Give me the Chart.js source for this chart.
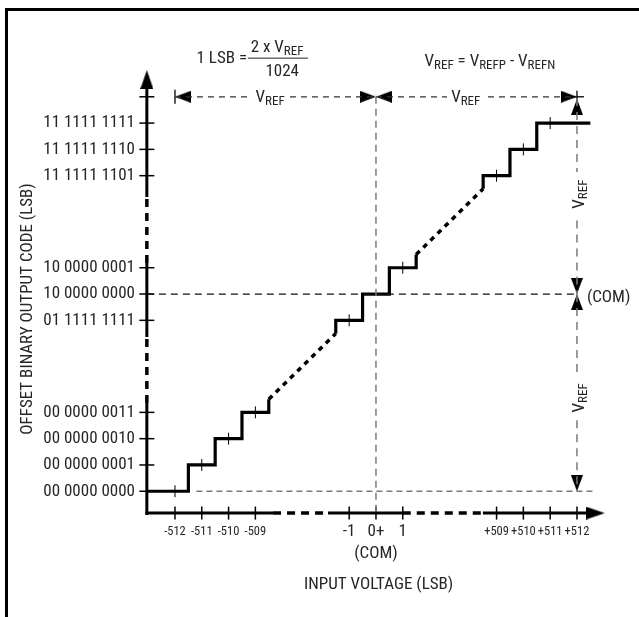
<!DOCTYPE html>
<html>
<head>
<meta charset="utf-8">
<title>ADC transfer function</title>
<script src="https://cdn.jsdelivr.net/npm/chart.js@4.4.1/dist/chart.umd.min.js"></script>
<style>
  html, body { margin: 0; padding: 0; background: #fff; }
  #wrap { position: relative; width: 639px; height: 617px; overflow: hidden; }
  #frame { position: absolute; left: 5px; top: 8px; right: -10px; bottom: -10px;
           border-left: 3px solid #000; border-top: 3px solid #000; }
  #myChart { position: absolute; left: 0; top: 0; }
</style>
</head>
<body>
<div id="wrap">
  <div id="frame"></div>
  <canvas id="myChart" width="639" height="617"></canvas>
</div>
<script>
// Plot units: 1 unit = 1 LSB step; both axes are broken, so the long
// runs between -509..-1 and +1..+509 are squeezed into a few units.

// axis ticks
const xTickPos = [-7.5, -6.5, -5.5, -4.5, -1, 0, 1, 4.5, 5.5, 6.5, 7.5];
const xTickLabels = ['-512', '-511', '-510', '-509', '-1', ['0+', '(COM)'], '1', '+509', '+510', '+511', '+512'];
const yTickPos = [-7.5, -6.5, -5.5, -4.5, -1, 0, 1, 4.5, 5.5, 6.5];
const yTickLabels = ['00 0000 0000', '00 0000 0001', '00 0000 0010', '00 0000 0011',
  '01 1111 1111', '10 0000 0000', '10 0000 0001',
  '11 1111 1101', '11 1111 1110', '11 1111 1111'];

// transfer curve (solid steps, null = break)
const stairX = [-8.55, -7, -7, -6, -6, -5, -5, -4, -4, null,
  -1.5, -1.5, -0.5, -0.5, 0.5, 0.5, 1.5, 1.5, null,
  4, 4, 5, 5, 6, 6, 8];
const stairY = [-7.5, -7.5, -6.5, -6.5, -5.5, -5.5, -4.5, -4.5, -4, null,
  -1.5, -1, -1, 0, 0, 1, 1, 1.5, null,
  4, 4.5, 4.5, 5.5, 5.5, 6.5, 6.5];
// dotted ramp standing in for the skipped codes
const rampX = [-4, -1.5, null, 1.5, 4];
const rampY = [-4, -1.5, null, 1.5, 4];
// code-centre marks on the steps
const midX = [-7.5, -6.5, -5.5, -4.5, -1, 1, 4.5, 5.5, 6.5];
const midY = [-7.5, -6.5, -5.5, -4.5, -1, 1, 4.5, 5.5, 6.5];

// axis lines (x = const for y axis, y = const for x axis)
const yAxisAt = -8.55;
const xAxisAt = -8.33;
const yAxisSolid = [[-8.4, -4.14], [-1.63, 1.18], [3.69, 8.0]];
const yAxisBroken = [[-4.14, -1.63], [1.18, 3.69]];
const xAxisSolid = [[-8.6, -3.84], [-1.79, 1.0], [3.99, 8.0]];
const xAxisBroken = [[-3.84, -1.79], [1.0, 3.99]];

// VREF dimension lines
const dimTopX = [-7.5, -4.81, null, -3.21, 0, null, 0, 2.65, null, 4.18, 7.5];
const dimTopY = [7.5, 7.5, null, 7.5, 7.5, null, 7.5, 7.5, null, 7.5, 7.5];
const dimRightX = [7.5, 7.5, null, 7.5, 7.5, null, 7.5, 7.5, null, 7.5, 7.5];
const dimRightY = [7.45, 4.64, null, 2.8, 0, null, 0, -3.1, null, -4.8, -7.5];

// guide lines
const comLineX = [yAxisAt, 7.5];
const comLineY = [0, 0];
const zeroCodeX = [-6.7, 8.1];
const zeroCodeY = [-7.5, -7.5];
const zeroInX = [0, 0];
const zeroInY = [7.5, xAxisAt];

// arrow heads: tip position + direction (deg, 0 = up)
const bigArrowX = [yAxisAt, 8.54];
const bigArrowY = [8.52, xAxisAt];
const bigArrowDir = [0, 90];
const smallArrowX = [-7.5, 0, 0, 7.5, 7.5, 7.5, 7.5, 7.5];
const smallArrowY = [7.5, 7.5, 7.5, 7.5, 7.42, 0, 0, -7.5];
const smallArrowDir = [270, 90, 270, 90, 0, 180, 0, 180];

const FONT = "'Roboto Condensed', 'DejaVu Sans Condensed', sans-serif";
const INK = '#262626';
const GREY = '#7a7a7a';

function pts(xs, ys) {
  return xs.map((x, i) => ({ x: x, y: ys[i] }));
}
function ranges(list, fixed, vertical) {
  const out = [];
  list.forEach((r, i) => {
    if (i) out.push({ x: null, y: null });
    r.forEach(v => out.push(vertical ? { x: fixed, y: v } : { x: v, y: fixed }));
  });
  return out;
}
function arrowHead(w, len) {
  const c = document.createElement('canvas');
  c.width = w;
  c.height = len * 2;
  const g = c.getContext('2d');
  g.fillStyle = '#000';
  g.beginPath();
  g.moveTo(w / 2, len);
  g.lineTo(w, len * 2);
  g.lineTo(0, len * 2);
  g.closePath();
  g.fill();
  return c;
}

function lineSet(data, color, width, dash) {
  return {
    data: data, showLine: true, borderColor: color, borderWidth: width,
    borderDash: dash || [], pointRadius: 0, fill: false, tension: 0, spanGaps: false
  };
}
function markSet(data, rot, r, w) {
  return {
    data: data, showLine: false, pointStyle: 'line', pointRotation: rot,
    pointRadius: r, pointBorderWidth: w, pointBorderColor: '#000', borderColor: '#000'
  };
}

// text drawn on top: [x, y, segments, align, rotated]
// segment = [text, subscript?]
const notes = [
  [-4.81, 8.94, [['1 LSB =', 0]], 'right', false],
  [-3.69, 9.38, [['2 x V', 0], ['REF', 1]], 'center', false],
  [-3.5, 8.45, [['1024', 0]], 'center', false],
  [4.25, 8.82, [['V', 0], ['REF', 1], [' = V', 0], ['REFP', 1], [' - V', 0], ['REFN', 1]], 'center', false],
  [-3.95, 7.45, [['V', 0], ['REF', 1]], 'center', false],
  [3.35, 7.45, [['V', 0], ['REF', 1]], 'center', false],
  [7.87, -0.15, [['(COM)', 0]], 'left', false],
  [7.6, 3.8, [['V', 0], ['REF', 1]], 'center', true],
  [7.6, -3.95, [['V', 0], ['REF', 1]], 'center', true]
];
const fractionBar = [[-4.78, -2.54], 8.97];

function drawRich(ctx, segs, align) {
  let w = 0;
  segs.forEach(s => {
    ctx.font = s[1] ? '13px ' + FONT : '17px ' + FONT;
    w += ctx.measureText(s[0]).width;
  });
  let cx = align === 'center' ? -w / 2 : (align === 'right' ? -w : 0);
  segs.forEach(s => {
    ctx.font = s[1] ? '13px ' + FONT : '17px ' + FONT;
    ctx.fillText(s[0], cx, s[1] ? 4 : 0);
    cx += ctx.measureText(s[0]).width;
  });
}

const notesPlugin = {
  id: 'notes',
  afterDatasetsDraw(chart) {
    const ctx = chart.ctx;
    const xs = chart.scales.x, ys = chart.scales.y;
    ctx.save();
    ctx.fillStyle = INK;
    ctx.textBaseline = 'middle';
    ctx.textAlign = 'left';
    notes.forEach(n => {
      ctx.save();
      ctx.translate(xs.getPixelForValue(n[0]), ys.getPixelForValue(n[1]));
      if (n[4]) ctx.rotate(-Math.PI / 2);
      drawRich(ctx, n[2], n[3]);
      ctx.restore();
    });
    ctx.strokeStyle = INK;
    ctx.lineWidth = 1;
    ctx.beginPath();
    const by = ys.getPixelForValue(fractionBar[1]);
    ctx.moveTo(xs.getPixelForValue(fractionBar[0][0]), by);
    ctx.lineTo(xs.getPixelForValue(fractionBar[0][1]), by);
    ctx.stroke();
    ctx.restore();
  }
};

const bigArrow = arrowHead(13, 19);
const smallArrow = arrowHead(12, 16);

const ctx = document.getElementById('myChart').getContext('2d');
const myChart = new Chart(ctx, {
  type: 'scatter',
  data: {
    datasets: [
      lineSet(pts(zeroCodeX, zeroCodeY), GREY, 1.3, [6, 4]),
      lineSet(pts(zeroInX, zeroInY), GREY, 1.5, [7, 5]),
      lineSet(pts(comLineX, comLineY), '#111', 1.2, [7, 5]),
      lineSet(pts(dimTopX, dimTopY), '#333', 1.2, [6, 5]),
      lineSet(pts(dimRightX, dimRightY), GREY, 1.5, [8, 6]),
      lineSet(ranges(yAxisSolid, yAxisAt, true), '#000', 3),
      lineSet(ranges(yAxisBroken, yAxisAt, true), '#000', 3.5, [8, 6]),
      lineSet(ranges(xAxisSolid, xAxisAt, false), '#000', 3),
      lineSet(ranges(xAxisBroken, xAxisAt, false), '#000', 3.5, [8, 6]),
      lineSet(pts(stairX, stairY), '#000', 3.2),
      lineSet(pts(rampX, rampY), '#000', 3.5, [5, 5]),
      markSet(pts(midX, midY), 90, 6, 1),
      markSet(yTickPos.concat([7.5]).map(v => ({ x: yAxisAt, y: v })), 0, 7.5, 1.5),
      markSet(xTickPos.map(v => ({ x: v, y: xAxisAt })), 90, 6.5, 1.5),
      markSet(pts([-7.5, 7.5, 7.5], [7.5, 7.5, 7.5]), [90, 0, 90], [7, 7, 6], 1.3),
      {
        data: pts(bigArrowX, bigArrowY), showLine: false, pointStyle: bigArrow,
        pointRotation: bigArrowDir, pointRadius: 5
      },
      {
        data: pts(smallArrowX, smallArrowY), showLine: false, pointStyle: smallArrow,
        pointRotation: smallArrowDir, pointRadius: 5
      }
    ]
  },
  options: {
    responsive: false,
    animation: false,
    events: [],
    devicePixelRatio: 1,
    layout: { padding: { left: 0, top: 62.6, right: 27.2, bottom: 0 } },
    plugins: { legend: { display: false }, tooltip: { enabled: false } },
    datasets: { scatter: { clip: false } },
    scales: {
      x: {
        type: 'linear', min: -8.6, max: 8.8,
        grid: { display: false, drawTicks: false },
        border: { display: false },
        afterBuildTicks: s => { s.ticks = xTickPos.map(v => ({ value: v })); },
        afterFit: s => { s.height = 96.8; },
        ticks: {
          autoSkip: false, maxRotation: 0, padding: 0.8, color: INK,
          font: c => ({ family: FONT, size: (c.index >= 4 && c.index <= 6) ? 17 : 12.5, lineHeight: '22px' }),
          callback: (v, i) => xTickLabels[i]
        },
        title: {
          display: true, text: 'INPUT VOLTAGE (LSB)', color: INK,
          font: { family: FONT, size: 17 }, padding: { top: 0, bottom: 21.8 }
        }
      },
      y: {
        type: 'linear', min: -8.6, max: 8.8,
        grid: { display: false, drawTicks: false },
        border: { display: false },
        afterBuildTicks: s => { s.ticks = yTickPos.map(v => ({ value: v })); },
        afterFit: s => { s.width = 145.5; },
        ticks: {
          autoSkip: false, padding: 10.5, color: INK,
          font: { family: FONT, size: 17 },
          callback: (v, i) => yTickLabels[i]
        },
        title: {
          display: true, text: 'OFFSET BINARY OUTPUT CODE (LSB)         ', color: INK,
          font: { family: FONT, size: 17 }, padding: { top: 17.8, bottom: 0 }
        }
      }
    }
  },
  plugins: [notesPlugin]
});
</script>
</body>
</html>
